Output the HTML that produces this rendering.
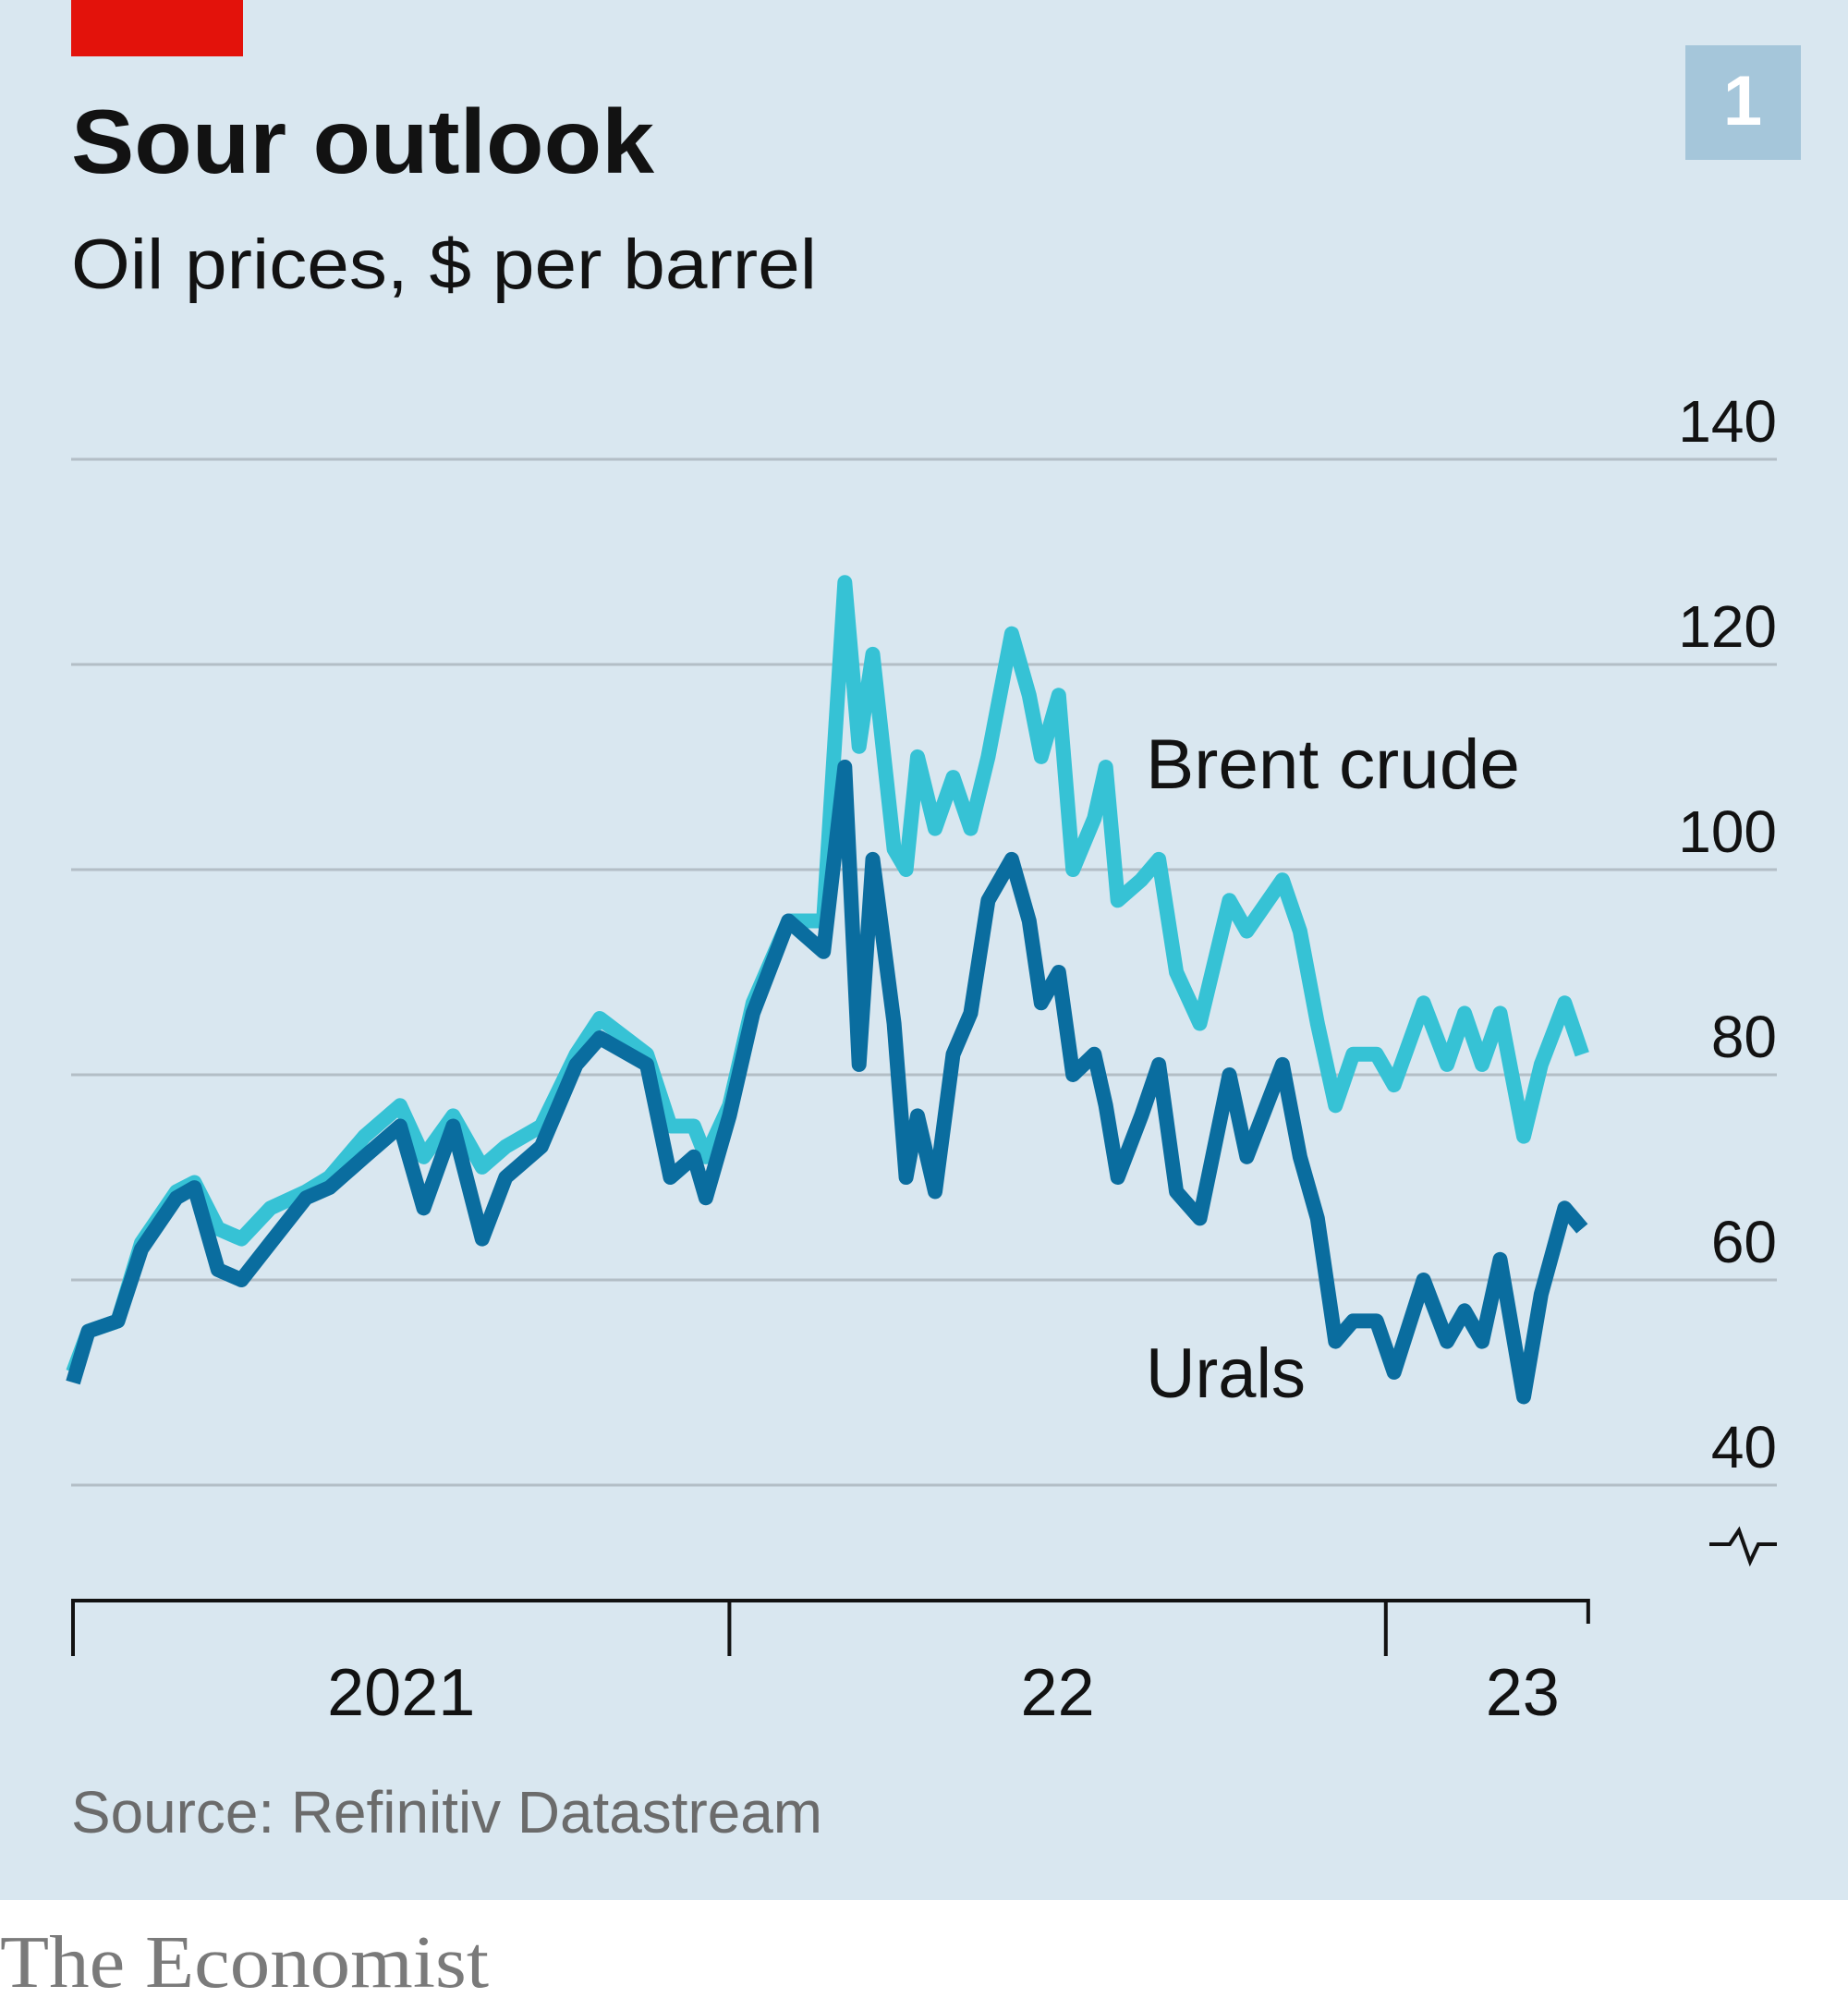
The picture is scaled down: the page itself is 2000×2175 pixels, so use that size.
<!DOCTYPE html>
<html><head><meta charset="utf-8"><style>
html,body{margin:0;padding:0;background:#fff}
svg{display:block}
text{font-family:"Liberation Sans",sans-serif}
text.serif{font-family:"Liberation Serif",serif}
</style></head><body>
<svg id="chart" width="2000" height="2175" viewBox="0 0 2000 2175">
<rect x="0" y="0" width="2000" height="2056" fill="#d9e7f0"/>
<rect x="77" y="0" width="186" height="61" fill="#e3120b"/>
<rect x="1824" y="49" width="125" height="124" fill="#a5c6da"/>
<text x="1886" y="135" text-anchor="middle" font-size="76" font-weight="bold" fill="#fff">1</text>
<text x="77" y="187" font-size="98" font-weight="bold" fill="#121212" textLength="631" lengthAdjust="spacingAndGlyphs">Sour outlook</text>
<text x="77" y="312" font-size="76" fill="#121212" textLength="807" lengthAdjust="spacingAndGlyphs">Oil prices, $ per barrel</text>
<g id="grid"></g>
<g id="series"></g>
<text x="1240" y="853" font-size="76" fill="#121212" textLength="405" lengthAdjust="spacingAndGlyphs">Brent crude</text>
<text x="1240" y="1512" font-size="76" fill="#121212" textLength="173" lengthAdjust="spacingAndGlyphs">Urals</text>
<path d="M1850 1671 H1872 L1882 1656 L1894 1690 L1903 1671 H1923" fill="none" stroke="#121212" stroke-width="4"/>
<g id="xaxis"></g>
<text x="77" y="1983" font-size="64" fill="#6b6b6b" textLength="813" lengthAdjust="spacingAndGlyphs">Source: Refinitiv Datastream</text>
<text class="serif" x="0" y="2150" font-size="80" fill="#7a7a7a" textLength="529" lengthAdjust="spacingAndGlyphs">The Economist</text>
</svg>
<script>
const yTicks=[40,60,80,100,120,140];
const yearLabels=["2021","22","23"];
const yearLabelMonths=[6,18,26.5];
const tickMonths=[0,12,24,27.7];
const months=[0,0.28,0.82,1.25,1.89,2.22,2.65,3.08,3.61,4.26,4.69,5.33,5.98,6.41,6.95,7.48,7.91,8.56,9.2,9.63,10.49,10.92,11.35,11.57,12,12.43,13.08,13.72,14.11,14.37,14.62,15.01,15.23,15.44,15.76,16.09,16.41,16.73,17.16,17.48,17.7,18.02,18.28,18.67,18.88,19.1,19.53,19.85,20.17,20.6,21.14,21.46,22.11,22.43,22.75,23.08,23.4,23.83,24.15,24.69,25.12,25.44,25.76,26.09,26.52,26.84,27.27,27.59];
const brent=[51,55,56,63.6,68.6,69.5,65,64,67,68.6,70,74,77,72,76,71,73,75,82,85.5,82,75,75,72,77,87,95,95,128,112,121,102,100,111,104,109,104,111,123,117,111,117,100,105,110,97,99,101,90,85,97,94,99,94,85,77,82,82,79,87,81,86,81,86,74,81,87,82];
const urals=[50,55,56,63,68,69,61,60,63.6,68,69,72,75,67,75,64,70,73,81,83.6,81,70,72,68,76,86,95,92,110,81,101,85,70,76,68.6,82,86,97,101,95,87,90,80,82,77,70,76,81,68.6,66,80,72,81,72,66,54,56,56,51,60,54,57,54,62,48.6,58.6,67,65];
const NS="http://www.w3.org/2000/svg";
function xScale(m){return 79+m*59.2;}
function yScale(v){return 1607-(v-40)*11.1;}
const grid=document.getElementById('grid');
yTicks.forEach(v=>{
  const l=document.createElementNS(NS,'line');
  
  
  l.setAttribute('x1',77);l.setAttribute('x2',1923);
  l.setAttribute('y1',yScale(v));l.setAttribute('y2',yScale(v));
  l.setAttribute('stroke','#b3bec6');l.setAttribute('stroke-width',3);
  grid.appendChild(l);
  const t=document.createElementNS(NS,'text');
  
  
  t.setAttribute('x',1923);t.setAttribute('y',yScale(v)-19);
  t.setAttribute('text-anchor','end');t.setAttribute('font-size',64);t.setAttribute('fill','#121212');
  t.textContent=v;
  grid.appendChild(t);
});
function path(vals,color,name){
  const p=document.createElementNS(NS,'path');
  
  
  p.setAttribute('d',vals.map((v,i)=>(i?'L':'M')+xScale(months[i]).toFixed(1)+' '+yScale(v).toFixed(1)).join(' '));
  p.setAttribute('fill','none');p.setAttribute('stroke',color);p.setAttribute('stroke-width',16);
  p.setAttribute('stroke-linejoin','round');
  document.getElementById('series').appendChild(p);
}
path(brent,'#36c2d5','brent-line');
path(urals,'#0a6d9f','urals-line');
const xa=document.getElementById('xaxis');
const ax=document.createElementNS(NS,'line');


ax.setAttribute('x1',77);ax.setAttribute('x2',1720);ax.setAttribute('y1',1732);ax.setAttribute('y2',1732);
ax.setAttribute('stroke','#121212');ax.setAttribute('stroke-width',4);
xa.appendChild(ax);
tickMonths.forEach((m,i)=>{
  const l=document.createElementNS(NS,'line');
  
  
  const big=i<3;
  l.setAttribute('x1',xScale(m));l.setAttribute('x2',xScale(m));
  l.setAttribute('y1',1730);l.setAttribute('y2',big?1792:1757);
  l.setAttribute('stroke','#121212');l.setAttribute('stroke-width',4);
  xa.appendChild(l);
});
yearLabels.forEach((s,i)=>{
  const t=document.createElementNS(NS,'text');
  
  
  t.setAttribute('x',xScale(yearLabelMonths[i]));t.setAttribute('y',1856);
  t.setAttribute('text-anchor','middle');t.setAttribute('font-size',72);t.setAttribute('fill','#121212');
  t.textContent=s;
  xa.appendChild(t);
});
</script>
</body></html>
